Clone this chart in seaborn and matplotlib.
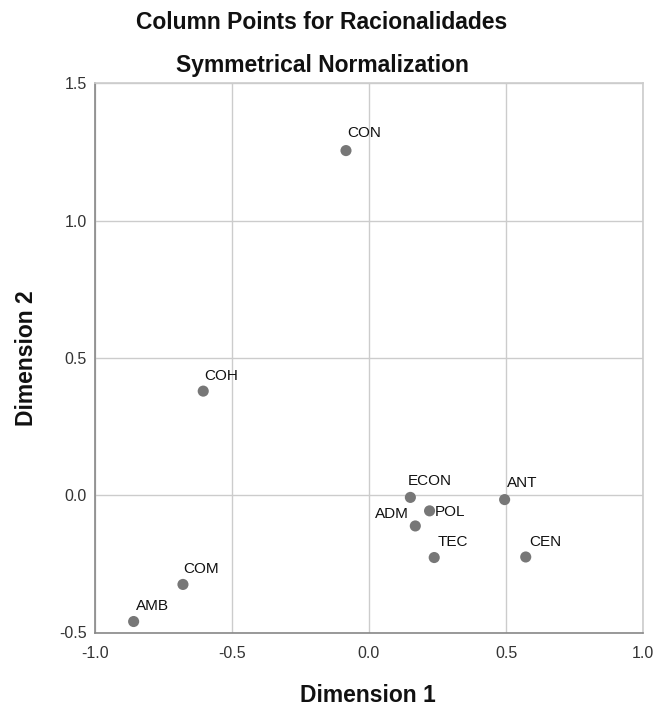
import matplotlib
matplotlib.use("Agg")
import matplotlib.pyplot as plt
import seaborn as sns
import pandas as pd

# ---- data ----
labels = ["CON", "COH", "COM", "AMB", "ECON", "ANT", "POL", "ADM", "TEC", "CEN"]
dim1 = [-0.084, -0.605, -0.679, -0.859, 0.151, 0.495, 0.221, 0.169, 0.238, 0.572]
dim2 = [1.255, 0.379, -0.325, -0.460, -0.008, -0.016, -0.057, -0.112, -0.227, -0.225]
xticks = [-1.0, -0.5, 0.0, 0.5, 1.0]
yticks = [-0.5, 0.0, 0.5, 1.0, 1.5]

df = pd.DataFrame({"label": labels, "Dimension 1": dim1, "Dimension 2": dim2})

# label offsets (points) - styling
offsets = {
    "CON": (0.7, 9.6, "left", "baseline"),
    "COH": (0.5, 8.0, "left", "baseline"),
    "COM": (0.5, 8.0, "left", "baseline"),
    "AMB": (1.5, 8.0, "left", "baseline"),
    "ECON": (-2.2, 8.6, "left", "baseline"),
    "ANT": (1.5, 9.0, "left", "baseline"),
    "POL": (3.8, -3.9, "left", "baseline"),
    "ADM": (-4.8, 5.8, "right", "baseline"),
    "TEC": (2.6, 8.0, "left", "baseline"),
    "CEN": (2.2, 8.0, "left", "baseline"),
}

sns.set_theme(style="white")
plt.rcParams["font.family"] = ["Liberation Sans", "DejaVu Sans"]

fig = plt.figure(figsize=(6.56, 7.06), dpi=100)
ax = fig.add_axes([95 / 656, 1 - 632.5 / 706, (643 - 95) / 656, (632.5 - 83.3) / 706])

sns.scatterplot(data=df, x="Dimension 1", y="Dimension 2", ax=ax,
                color="#777777", s=64, edgecolor="none", linewidth=0, zorder=3)

for _, r in df.iterrows():
    dx, dy, ha, va = offsets[r["label"]]
    ax.annotate(r["label"], (r["Dimension 1"], r["Dimension 2"]),
                xytext=(dx, dy), textcoords="offset points",
                ha=ha, va=va, fontsize=11, color="#111111", zorder=4)

ax.set_xlim(-1.0, 1.0)
ax.set_ylim(-0.5, 1.5)
ax.set_xticks(xticks)
ax.set_yticks(yticks)
ax.set_xticklabels([f"{v:.1f}" for v in xticks])
ax.set_yticklabels([f"{v:.1f}" for v in yticks])
ax.tick_params(axis="both", labelsize=11.5, colors="#333333", length=2,
               width=0.8, color="#888888")
ax.tick_params(axis="x", pad=8)
ax.tick_params(axis="y", pad=4)
ax.grid(True, color="#cccccc", linewidth=1.0)
ax.set_axisbelow(True)

for side in ["top", "right"]:
    ax.spines[side].set_color("#cccccc")
    ax.spines[side].set_linewidth(1.2)
for side in ["left", "bottom"]:
    ax.spines[side].set_color("#888888")
    ax.spines[side].set_linewidth(1.2)

ax.set_xlabel("")
ax.set_ylabel("")
fig.text(368 / 656, 1 - 701.5 / 706, "Dimension 1", ha="center", va="baseline",
         fontsize=16.5, fontweight="bold", color="#111111")
fig.text(33 / 656, 1 - 358.5 / 706, "Dimension 2", ha="center", va="baseline",
         rotation=90, fontsize=16.5, fontweight="bold", color="#111111",
         rotation_mode="anchor")

fig.text(322 / 656, 1 - 29.3 / 706, "Column Points for Racionalidades",
         ha="center", va="baseline", fontsize=16.5, fontweight="bold", color="#111111")
fig.text(322 / 656, 1 - 71.7 / 706, "Symmetrical Normalization",
         ha="center", va="baseline", fontsize=16.5, fontweight="bold", color="#111111")

fig.savefig("out.png", dpi=100)
